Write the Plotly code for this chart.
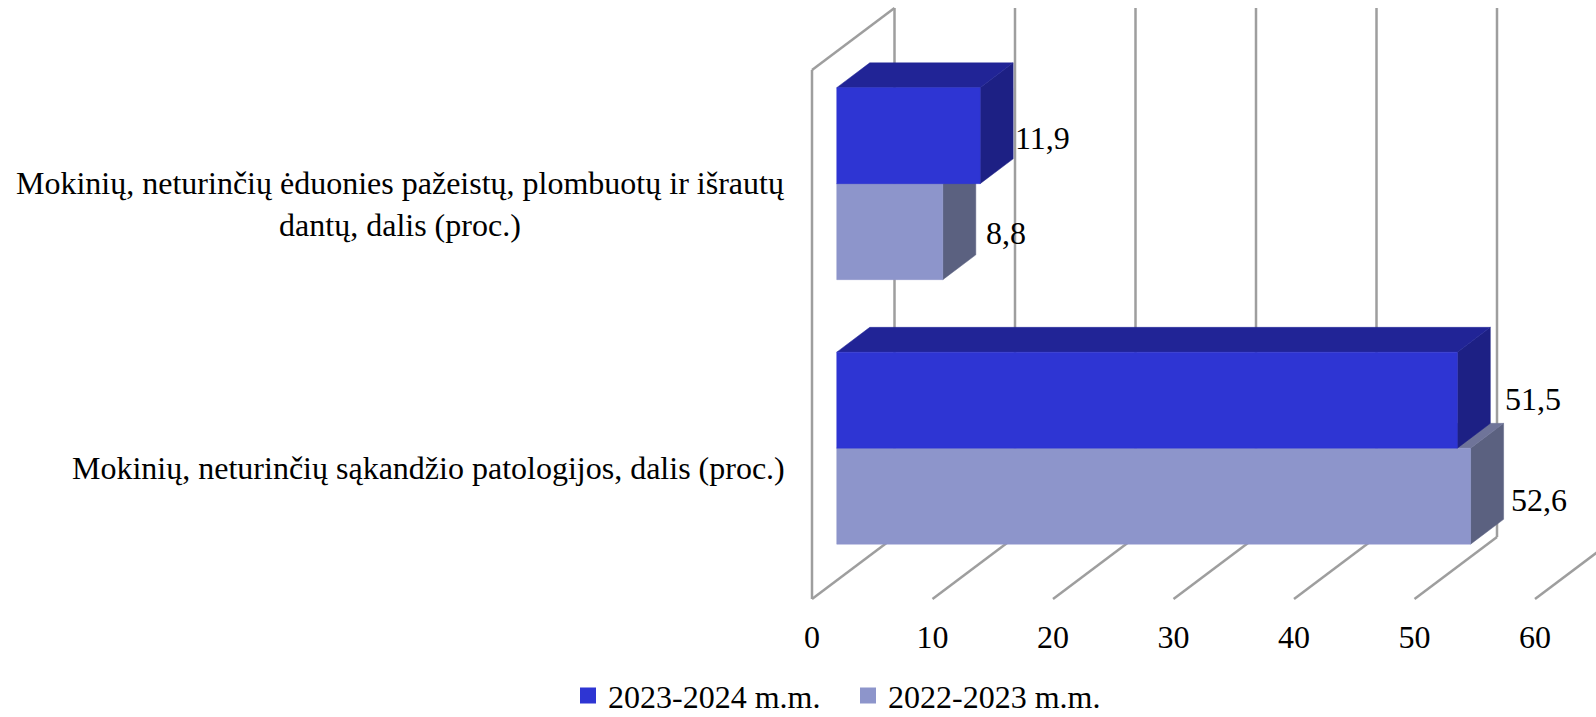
import plotly.graph_objects as go

categories = [
    "Mokinių, neturinčių sąkandžio patologijos, dalis (proc.)",
    "Mokinių, neturinčių ėduonies pažeistų, plombuotų ir išrautų<br>dantų, dalis (proc.)",
]
series_names = ["2023-2024 m.m.", "2022-2023 m.m."]
values_2023_2024 = [51.5, 11.9]
values_2022_2023 = [52.6, 8.8]
x_ticks = [0, 10, 20, 30, 40, 50, 60]

FONT = "Liberation Serif"
FS = 32
BLACK = "#000000"
GRID = "#9E9E9E"
PX_PER_UNIT = 12.05
PX_PER_BAND = 264.5
DX = 82.5 / PX_PER_UNIT
DY = 62 / PX_PER_BAND
Z0, Z1 = 0.3, 0.7
BAR_H = 96 / PX_PER_BAND

FACE = {
    "blue": {"front": "#2E35D3", "top": "#212496", "side": "#1D2084"},
    "light": {"front": "#8D95CB", "top": "#6F7499", "side": "#5B6180"},
}


def pt(v, y, z):
    return v + z * DX, y + z * DY


def poly(points, color):
    return go.Scatter(
        x=[p[0] for p in points] + [points[0][0]],
        y=[p[1] for p in points] + [points[0][1]],
        mode="lines",
        fill="toself",
        fillcolor=color,
        line=dict(color=color, width=0.5),
        hoverinfo="skip",
        showlegend=False,
    )


def box(v, lo, hi, pal):
    return [
        poly([pt(v, lo, Z0), pt(v, lo, Z1), pt(v, hi, Z1), pt(v, hi, Z0)], pal["side"]),
        poly([pt(0, hi, Z0), pt(v, hi, Z0), pt(v, hi, Z1), pt(0, hi, Z1)], pal["top"]),
        poly([pt(0, lo, Z0), pt(v, lo, Z0), pt(v, hi, Z0), pt(0, hi, Z0)], pal["front"]),
    ]


fig = go.Figure()
for i, c in enumerate(categories):
    centre = i + 0.5
    for t in box(values_2022_2023[i], centre - BAR_H, centre, FACE["light"]):
        fig.add_trace(t)
    for t in box(values_2023_2024[i], centre, centre + BAR_H, FACE["blue"]):
        fig.add_trace(t)

for name, key in zip(series_names, ["blue", "light"]):
    fig.add_trace(go.Scatter(
        x=[None], y=[None], mode="markers", name=name,
        marker=dict(symbol="square", size=16, color=FACE[key]["front"]),
    ))

shapes = []


def seg(a, b):
    shapes.append(dict(type="line", xref="x", yref="y", layer="below",
                       x0=a[0], y0=a[1], x1=b[0], y1=b[1],
                       line=dict(color=GRID, width=2.5)))


for k in x_ticks:
    seg(pt(k, 0, 0), pt(k, 0, 1))
    seg(pt(k, 0, 1), pt(k, 2, 1))
seg(pt(0, 0, 0), pt(0, 2, 0))
seg(pt(0, 2, 0), pt(0, 2, 1))

annotations = []
for i, c in enumerate(categories):
    annotations.append(dict(
        text=c, x=-25 / PX_PER_UNIT, y=i + 0.5, xref="x", yref="y",
        xanchor="right", yanchor="middle", align="center", showarrow=False,
        yshift=[-1, -2][i], font=dict(family=FONT, size=FS, color=BLACK),
    ))

label_shift = {
    0: [(13, 1), (0, -2)],
    1: [(5, -4), (8, -1)],
}
for j, vals in enumerate([values_2023_2024, values_2022_2023]):
    for i, v in enumerate(vals):
        sign = 1 if j == 0 else -1
        x = pt(v, 0, Z1)[0]
        y = i + 0.5 + sign * BAR_H / 2 + Z0 * DY
        sx, sy = label_shift[j][i]
        annotations.append(dict(
            text=f"{v:.1f}".replace(".", ","), x=x, y=y, xref="x", yref="y",
            xanchor="left", yanchor="middle", showarrow=False,
            xshift=sx, yshift=sy, font=dict(family=FONT, size=FS, color=BLACK),
        ))

fig.update_layout(
    width=1596, height=717,
    margin=dict(l=780, r=0, t=0, b=112),
    paper_bgcolor="white", plot_bgcolor="white",
    shapes=shapes, annotations=annotations,
    xaxis=dict(range=[-32 / PX_PER_UNIT, 784 / PX_PER_UNIT], tickvals=x_ticks,
               ticktext=[str(k) for k in x_ticks], showgrid=False, zeroline=False,
               showline=False, ticks="outside", ticklen=4, tickcolor="rgba(0,0,0,0)",
               tickfont=dict(family=FONT, size=FS, color=BLACK)),
    yaxis=dict(range=[-6 / PX_PER_BAND, 599 / PX_PER_BAND], showgrid=False,
               zeroline=False, showline=False, showticklabels=False, ticks=""),
    legend=dict(orientation="h", xref="container", yref="container",
                x=568 / 1596, y=0.068, xanchor="left", yanchor="top",
                font=dict(family=FONT, size=FS, color=BLACK),
                itemwidth=30, entrywidth=235, entrywidthmode="pixels",
                bgcolor="rgba(0,0,0,0)"),
    showlegend=True,
)
fig.write_html("out.html", config={"displayModeBar": False},
               post_script="document.body.style.margin='0';document.body.style.overflow='hidden';")
